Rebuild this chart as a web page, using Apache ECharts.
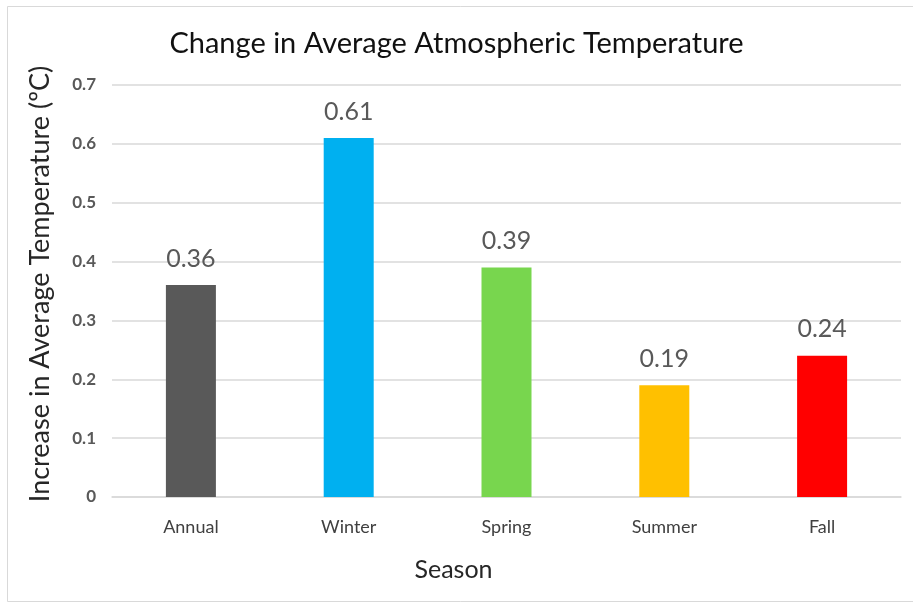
<!DOCTYPE html>
<html>
<head>
<meta charset="utf-8">
<title>Change in Average Atmospheric Temperature</title>
<script src="https://cdn.jsdelivr.net/npm/echarts@6/dist/echarts.min.js"></script>
<style>
  html, body { margin: 0; padding: 0; background: #ffffff; }
  #chart { width: 913px; height: 603px; }
</style>
</head>
<body>
<div id="chart"></div>
<script>
// Seasonal warming figures
const seasons = ['Annual', 'Winter', 'Spring', 'Summer', 'Fall'];
const increase = [0.36, 0.61, 0.39, 0.19, 0.24];
const barColors = ['#595959', '#00B0F0', '#78D64E', '#FFC000', '#FF0000'];
const yTicks = [0, 0.1, 0.2, 0.3, 0.4, 0.5, 0.6, 0.7];

const FONT = 'Lato, "Open Sans", sans-serif';

const chart = echarts.init(document.getElementById('chart'), null, { renderer: 'canvas' });

chart.setOption({
  animation: false,
  backgroundColor: '#ffffff',
  textStyle: { fontFamily: FONT },
  title: {
    text: 'Change in Average Atmospheric Temperature',
    left: 'center',
    top: 24,
    textStyle: { fontFamily: FONT, fontSize: 29, fontWeight: 'normal', color: '#111111' }
  },
  graphic: [{
    // frame open on the right side
    type: 'polyline',
    shape: { points: [[1000, 6.5], [7.5, 6.5], [7.5, 601.5], [1000, 601.5]] },
    style: { fill: null, stroke: '#d9d9d9', lineWidth: 1 },
    silent: true,
    z: -1
  }],
  grid: { left: 112, right: 12, top: 85, bottom: 106 },
  xAxis: {
    type: 'category',
    data: seasons,
    name: 'Season',
    nameLocation: 'middle',
    nameGap: 60,
    nameTextStyle: { fontFamily: FONT, fontSize: 25, color: '#262626', padding: [0, 106, 0, 0] },
    axisLine: { show: true, lineStyle: { color: '#d9d9d9', width: 1.5 } },
    axisTick: { show: false },
    axisLabel: { margin: 21, fontFamily: FONT, fontSize: 18, color: '#404040' }
  },
  yAxis: {
    type: 'value',
    min: yTicks[0],
    max: yTicks[yTicks.length - 1],
    interval: 0.1,
    name: 'Increase in Average Temperature (ºC)',
    nameLocation: 'middle',
    nameGap: 58,
    nameTextStyle: { fontFamily: FONT, fontSize: 27, color: '#262626', padding: [0, 0, 0, 14] },
    axisLine: { show: false },
    axisTick: { show: false },
    splitLine: { lineStyle: { color: '#d9d9d9', width: 1.5 } },
    axisLabel: {
      margin: 16,
      fontFamily: FONT,
      fontSize: 17,
      fontWeight: 'bold',
      color: '#595959',
      formatter: v => String(Math.round(v * 10) / 10)
    }
  },
  series: [{
    type: 'bar',
    barWidth: 50,
    data: increase.map((v, i) => ({ value: v, itemStyle: { color: barColors[i] } })),
    label: {
      show: true,
      position: 'top',
      distance: 14,
      fontFamily: FONT,
      fontSize: 25,
      color: '#595959',
      formatter: p => p.value.toFixed(2)
    }
  }]
});
</script>
</body>
</html>
